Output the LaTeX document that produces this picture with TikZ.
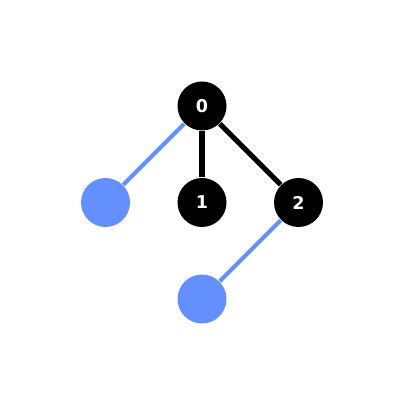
\documentclass[tikz,border=0pt]{standalone}
\usepackage{fontspec}
\setmainfont{DejaVu Sans}
\usepackage{tikz}
\usetikzlibrary{positioning}
\definecolor{qblue}{HTML}{648FFF}
\tikzset{
  qnode/.style={circle, fill=black, text=white, inner sep=0pt, minimum size=0.49cm, font=\fontsize{5pt}{6pt}\selectfont\bfseries},
  fnode/.style={circle, fill=qblue, inner sep=0pt, minimum size=0.49cm},
  qedge/.style={line width=1.5pt, black},
  fedge/.style={line width=1.15pt, qblue}
}
\begin{document}
\begin{tikzpicture}[on grid, node distance=0.965cm]
      \useasboundingbox (0,0) rectangle (4.04,4.05);
      \node[qnode] (n0) at (2.02,2.99) {0};
      \node[qnode, below=of n0] (n1) {1};
      \node[qnode, right=of n1] (n2) {2};
      \node[fnode, left=of n1] (f0) {};
      \node[fnode, below=of n1] (f2) {};
      \draw[qedge] (n0)--(n1);
      \draw[qedge] (n0)--(n2);
      \draw[fedge] (n0)--(f0);
      \draw[fedge] (n2)--(f2);
    \end{tikzpicture}
\end{document}
